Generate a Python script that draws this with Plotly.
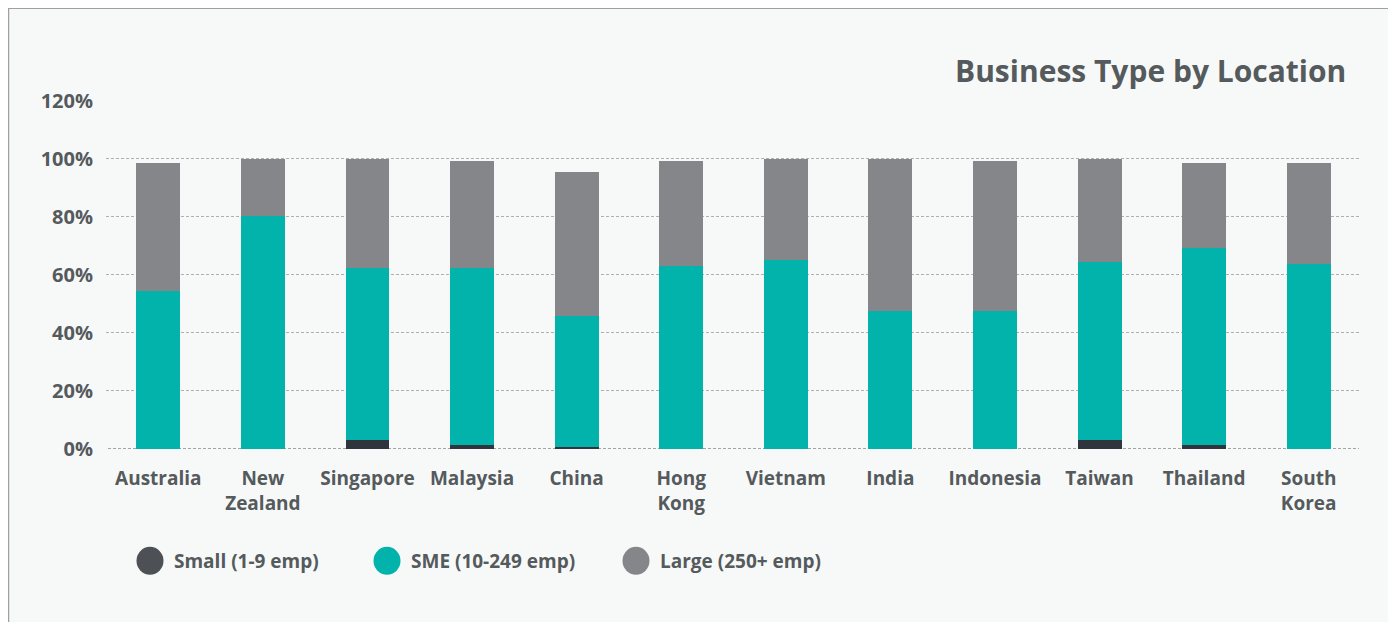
import plotly.graph_objects as go

categories = ["Australia", "New<br>Zealand", "Singapore", "Malaysia", "China", "Hong<br>Kong",
              "Vietnam", "India", "Indonesia", "Taiwan", "Thailand", "South<br>Korea"]
small = [0, 0, 3.1, 1.4, 0.7, 0, 0, 0, 0, 3.1, 1.4, 0]
sme = [54.3, 80.4, 59.4, 61.1, 45.3, 63.2, 65.3, 47.4, 47.4, 61.5, 68.0, 63.9]
large = [44.3, 19.6, 37.5, 36.8, 49.5, 36.1, 34.7, 52.6, 51.9, 35.4, 29.2, 34.7]
series_names = ["Small (1-9 emp)", "SME (10-249 emp)", "Large (250+ emp)"]
y_ticks = [0, 20, 40, 60, 80, 100, 120]
y_ticktext = [f"{v}%" for v in y_ticks]
title_text = "Business Type by Location"

bar_colors = ["#30343c", "#02b3ab", "#84868a"]
legend_colors = ["#4d5156", "#02b3ab", "#84868a"]
text_color = "#555a5d"
FONT = "Open Sans"

fig = go.Figure()
for name, vals, col in zip(series_names, [small, sme, large], bar_colors):
    fig.add_trace(go.Bar(x=categories, y=vals, name=name, marker=dict(color=col, line=dict(width=0)),
                         showlegend=False))

# window-pixel geometry (figure div sits at an 8px body offset)
OFF = 8
W, H = 1396 - OFF, 622 - OFF
PL, PR, PT, PB = 106, 1361, 99.5, 449  # plot area in window pixels
L = PL - OFF
T = PT - OFF
R = W - (PR - OFF)
B = H - (PB - OFF)
pw = PR - PL
ph = PB - PT

def px_x(x):
    return (x - PL) / pw

def px_y(y):
    return (PB - y) / ph

shapes = []
shapes.append(dict(type="rect", xref="paper", yref="paper", x0=px_x(8.5), x1=px_x(1392),
                   y0=px_y(660), y1=px_y(7.5), line=dict(color="#a0a0a0", width=1.5),
                   fillcolor="#f7f9f8", layer="below"))
shapes.append(dict(type="line", xref="paper", yref="y", x0=px_x(108), x1=px_x(1359), y0=0, y1=0,
                   line=dict(color="#888888", width=1.5, dash="3px,2px"), layer="below"))

annotations = [dict(text=f"<b>{title_text}</b>", xref="paper", yref="paper", x=px_x(1348), y=px_y(70),
                    xanchor="right", yanchor="middle", showarrow=False,
                    font=dict(family=FONT, size=30, color=text_color))]

legend_x = [150, 387, 636]
ly = 561
for cx, name, col in zip(legend_x, series_names, legend_colors):
    shapes.append(dict(type="circle", xref="paper", yref="paper", xsizemode="pixel", ysizemode="pixel",
                       xanchor=px_x(cx), yanchor=px_y(ly), x0=-13.5, x1=13.5, y0=-14, y1=14,
                       fillcolor=col, line=dict(width=0), layer="above"))
    annotations.append(dict(text=f"<b>{name}</b>", xref="paper", yref="paper", x=px_x(cx + 22), y=px_y(ly),
                            xanchor="left", yanchor="middle", showarrow=False,
                            font=dict(family=FONT, size=19, color=text_color)))

fig.update_layout(
    barmode="stack",
    bargap=0.58,
    width=W, height=H,
    margin=dict(l=L, r=R, t=T, b=B, pad=0),
    paper_bgcolor="white",
    plot_bgcolor="rgba(0,0,0,0)",
    font=dict(family=FONT, color=text_color),
    shapes=shapes,
    annotations=annotations,
    xaxis=dict(type="category", showgrid=False, showline=False, zeroline=False,
               ticks="outside", ticklen=12, tickcolor="rgba(0,0,0,0)",
               tickfont=dict(family=FONT, size=19, color=text_color, weight="bold")),
    yaxis=dict(range=[0, 120.3], tickvals=y_ticks, ticktext=y_ticktext,
               showgrid=True, gridcolor="#b0b0b0", gridwidth=1, griddash="3px,2px",
               zeroline=False, showline=False, ticks="outside", ticklen=8, tickcolor="rgba(0,0,0,0)",
               tickfont=dict(family=FONT, size=20, color=text_color, weight="bold")),
)

fig.write_html("out.html")
